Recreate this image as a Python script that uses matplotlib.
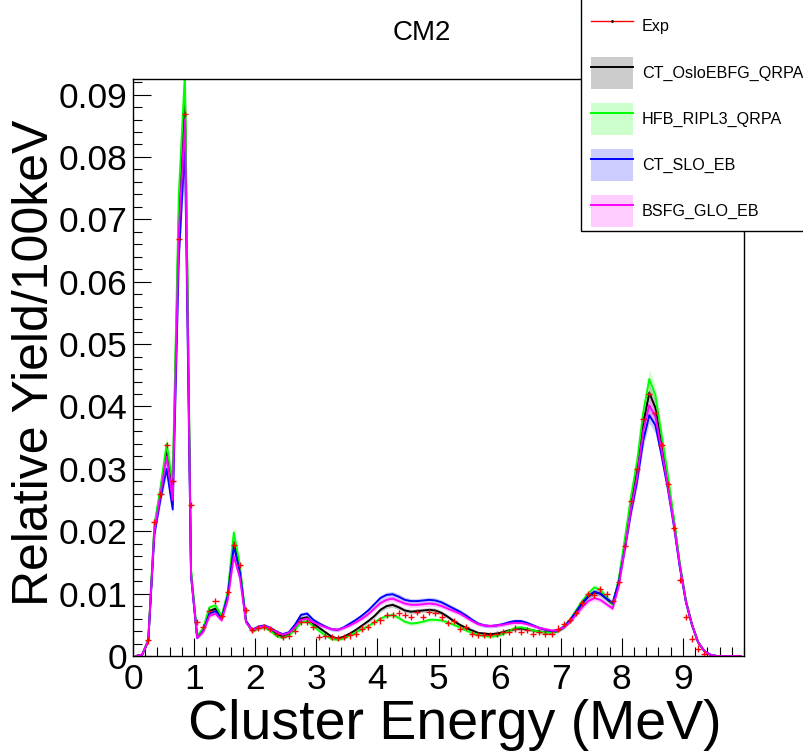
import numpy as np
import matplotlib
matplotlib.use("Agg")
import matplotlib.pyplot as plt
from matplotlib.patches import Patch, Rectangle
from matplotlib.lines import Line2D
from matplotlib.ticker import MultipleLocator, FuncFormatter

plt.rcParams['font.family'] = ['Liberation Sans', 'DejaVu Sans']

# 100 keV bins, centres 0.05 ... 9.95 MeV
bin_centers = np.round(np.arange(0.05, 10.0, 0.1), 2)

oslo_qrpa = [
    0, 0.0002, 0.0025, 0.0205, 0.0265, 0.0330, 0.0268, 0.0700, 0.0906, 0.0134,
    0.0031, 0.0042, 0.0072, 0.0076, 0.0062, 0.0098, 0.0183, 0.0138, 0.0055, 0.0040,
    0.0045, 0.0047, 0.0042, 0.0035, 0.0031, 0.0035, 0.0045, 0.0060, 0.0062, 0.0052,
    0.0045, 0.0038, 0.0031, 0.0028, 0.0031, 0.0036, 0.0042, 0.0049, 0.0056, 0.0064,
    0.0074, 0.0080, 0.0082, 0.0078, 0.0073, 0.0071, 0.0072, 0.0073, 0.0074, 0.0073,
    0.0069, 0.0063, 0.0056, 0.0050, 0.0045, 0.0041, 0.0037, 0.0036, 0.0035, 0.0036,
    0.0038, 0.0041, 0.0043, 0.0044, 0.0043, 0.0041, 0.0039, 0.0038, 0.0038, 0.0040,
    0.0046, 0.0056, 0.0070, 0.0084, 0.0095, 0.0102, 0.0100, 0.0092, 0.0083, 0.0120,
    0.0180, 0.0243, 0.0298, 0.0372, 0.0422, 0.0398, 0.0340, 0.0282, 0.0218, 0.0145,
    0.0088, 0.0050, 0.0022, 0.0008, 0.0002, 0, 0, 0, 0, 0]

hfb_qrpa = [
    0, 0.0002, 0.0027, 0.0210, 0.0270, 0.0340, 0.0278, 0.0740, 0.0935, 0.0140,
    0.0032, 0.0045, 0.0078, 0.0081, 0.0064, 0.0102, 0.0198, 0.0145, 0.0056, 0.0039,
    0.0045, 0.0046, 0.0040, 0.0032, 0.0029, 0.0033, 0.0042, 0.0054, 0.0056, 0.0048,
    0.0040, 0.0033, 0.0027, 0.0026, 0.0028, 0.0033, 0.0038, 0.0043, 0.0048, 0.0054,
    0.0060, 0.0064, 0.0066, 0.0061, 0.0055, 0.0052, 0.0053, 0.0055, 0.0058, 0.0058,
    0.0057, 0.0054, 0.0050, 0.0046, 0.0041, 0.0037, 0.0034, 0.0032, 0.0031, 0.0032,
    0.0035, 0.0040, 0.0045, 0.0046, 0.0044, 0.0041, 0.0039, 0.0038, 0.0038, 0.0040,
    0.0047, 0.0058, 0.0073, 0.0088, 0.0100, 0.0110, 0.0106, 0.0094, 0.0082, 0.0123,
    0.0188, 0.0255, 0.0312, 0.0390, 0.0444, 0.0418, 0.0355, 0.0292, 0.0222, 0.0148,
    0.0088, 0.0049, 0.0021, 0.0008, 0.0002, 0, 0, 0, 0, 0]

slo_eb = [
    0, 0.0002, 0.0024, 0.0195, 0.0252, 0.0300, 0.0235, 0.0640, 0.0820, 0.0128,
    0.0029, 0.0040, 0.0068, 0.0072, 0.0060, 0.0096, 0.0176, 0.0134, 0.0056, 0.0042,
    0.0047, 0.0049, 0.0045, 0.0039, 0.0035, 0.0038, 0.0050, 0.0066, 0.0068, 0.0058,
    0.0052, 0.0047, 0.0043, 0.0042, 0.0046, 0.0052, 0.0058, 0.0065, 0.0073, 0.0083,
    0.0093, 0.0098, 0.0099, 0.0095, 0.0090, 0.0088, 0.0088, 0.0089, 0.0090, 0.0089,
    0.0086, 0.0081, 0.0076, 0.0071, 0.0065, 0.0058, 0.0052, 0.0049, 0.0048, 0.0049,
    0.0051, 0.0054, 0.0056, 0.0056, 0.0053, 0.0049, 0.0045, 0.0042, 0.0040, 0.0041,
    0.0047, 0.0057, 0.0071, 0.0085, 0.0096, 0.0103, 0.0100, 0.0092, 0.0085, 0.0118,
    0.0172, 0.0230, 0.0280, 0.0345, 0.0386, 0.0370, 0.0322, 0.0270, 0.0210, 0.0142,
    0.0086, 0.0049, 0.0022, 0.0008, 0.0002, 0, 0, 0, 0, 0]

glo_eb = [
    0, 0.0002, 0.0025, 0.0200, 0.0260, 0.0320, 0.0250, 0.0680, 0.0860, 0.0130,
    0.0029, 0.0039, 0.0064, 0.0068, 0.0057, 0.0090, 0.0160, 0.0125, 0.0054, 0.0041,
    0.0046, 0.0048, 0.0044, 0.0038, 0.0034, 0.0037, 0.0046, 0.0058, 0.0060, 0.0054,
    0.0050, 0.0046, 0.0043, 0.0042, 0.0045, 0.0049, 0.0054, 0.0060, 0.0067, 0.0076,
    0.0085, 0.0090, 0.0092, 0.0088, 0.0084, 0.0082, 0.0082, 0.0083, 0.0084, 0.0083,
    0.0080, 0.0076, 0.0072, 0.0068, 0.0062, 0.0056, 0.0051, 0.0049, 0.0048, 0.0049,
    0.0050, 0.0052, 0.0053, 0.0053, 0.0051, 0.0048, 0.0045, 0.0043, 0.0041, 0.0041,
    0.0046, 0.0054, 0.0066, 0.0078, 0.0088, 0.0093, 0.0090, 0.0083, 0.0076, 0.0112,
    0.0172, 0.0236, 0.0288, 0.0360, 0.0402, 0.0384, 0.0330, 0.0275, 0.0213, 0.0144,
    0.0087, 0.0050, 0.0022, 0.0008, 0.0002, 0, 0, 0, 0, 0]

# experiment, bins 0.25 ... 9.35 MeV
exp_energy = bin_centers[2:94]
exp_yield = [
    0.0025, 0.0215, 0.0259, 0.0338, 0.0281, 0.0668, 0.0869, 0.0242,
    0.0055, 0.0046, 0.0072, 0.0088, 0.0064, 0.0102, 0.0178, 0.0146, 0.0074, 0.0042,
    0.0045, 0.0047, 0.0043, 0.0036, 0.0030, 0.0032, 0.0040, 0.0055, 0.0055, 0.0047,
    0.0031, 0.0032, 0.0030, 0.0029, 0.0030, 0.0033, 0.0035, 0.0044, 0.0046, 0.0055,
    0.0057, 0.0066, 0.0066, 0.0069, 0.0066, 0.0063, 0.0070, 0.0063, 0.0070, 0.0069,
    0.0062, 0.0053, 0.0056, 0.0043, 0.0046, 0.0035, 0.0034, 0.0034, 0.0034, 0.0035,
    0.0039, 0.0039, 0.0044, 0.0039, 0.0042, 0.0035, 0.0038, 0.0036, 0.0035, 0.0044,
    0.0051, 0.0058, 0.0069, 0.0085, 0.0100, 0.0098, 0.0107, 0.0100, 0.0088, 0.0119,
    0.0176, 0.0248, 0.0299, 0.0380, 0.0420, 0.0390, 0.0338, 0.0275, 0.0205, 0.0122,
    0.0062, 0.0028, 0.0012, 0.0003]
exp_err = 0.0005
band_frac = 0.03

models = [
    ("CT_OsloEBFG_QRPA", oslo_qrpa, "#000000"),
    ("HFB_RIPL3_QRPA", hfb_qrpa, "#00ff00"),
    ("CT_SLO_EB", slo_eb, "#0000ff"),
    ("BSFG_GLO_EB", glo_eb, "#ff00ff"),
]

fig = plt.figure(figsize=(8.04, 7.55), dpi=100)
ax = fig.add_axes([133/804, 1-656/755, (744-133)/804, (656-79)/755])

handles = []
labels = []
ax.errorbar(exp_energy, exp_yield, xerr=0.05, yerr=exp_err, fmt='none',
            ecolor='red', elinewidth=1, capsize=0, zorder=5)
handles.append(Line2D([], [], color='red', lw=1, marker='.', markersize=2,
                      markerfacecolor='black', markeredgecolor='black'))
labels.append("Exp")

for name, vals, col in models:
    y = np.array(vals)
    err = band_frac * y + 0.00015
    ax.fill_between(bin_centers, y - err, y + err, color=col, alpha=0.2, lw=0)
    ax.plot(bin_centers, y, color=col, lw=1.4)
    handles.append((Patch(facecolor=col, alpha=0.2, lw=0), Line2D([], [], color=col, lw=1.4)))
    labels.append(name)

ax.set_xlim(0, 10)
ax.set_ylim(0, 0.0925)
ax.xaxis.set_major_locator(MultipleLocator(1))
ax.xaxis.set_minor_locator(MultipleLocator(0.2))
ax.yaxis.set_major_locator(MultipleLocator(0.01))
ax.yaxis.set_minor_locator(MultipleLocator(0.002))
ax.set_xticks(range(10))
ax.yaxis.set_major_formatter(FuncFormatter(lambda v, p: "0" if abs(v) < 1e-9 else "%.2f" % v))
ax.tick_params(which='both', direction='in', top=False, right=False, width=0.8)
ax.tick_params(which='major', length=13, labelsize=25.5)
ax.tick_params(axis='y', which='major', pad=4)
ax.tick_params(axis='x', which='major', pad=5)
ax.tick_params(which='minor', length=6.5)
for s in ax.spines.values():
    s.set_linewidth(1)

fig.text(722/804, 1-739/755, "Cluster Energy (MeV)", ha='right', va='baseline', fontsize=40)
fig.text(35/804, 1-120/755, "Relative Yield/100keV", ha='center', va='top',
         rotation=90, fontsize=36)
fig.text(422/804, 1-33/755, "CM2", ha='center', va='center', fontsize=20)

# legend box, white and cut at the figure edge like the original
fig.patches.append(Rectangle((581/804, 1-231/755), 0.5, 0.5, facecolor='white',
                             edgecolor='black', lw=1, transform=fig.transFigure, zorder=3))
leg = fig.legend(handles, labels, loc='lower left', bbox_to_anchor=(591/804, 1-227/755),
                 bbox_transform=fig.transFigure, frameon=False, borderpad=0,
                 borderaxespad=0, fontsize=11.6, handlelength=2.6, handleheight=2.68,
                 labelspacing=0.875, handletextpad=0.56)
leg.set_zorder(4)

fig.savefig("out.png", dpi=100)
